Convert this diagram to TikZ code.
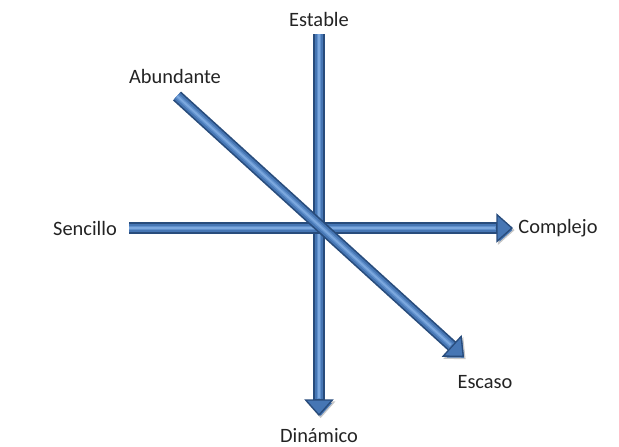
\documentclass[tikz,border=0pt]{standalone}
\usepackage{fontspec}
\setmainfont{Carlito}
\usepackage{tikz}
\usetikzlibrary{arrows.meta,positioning}

\definecolor{axisedge}{RGB}{40,76,124}
\definecolor{axisblue}{RGB}{70,118,180}
\definecolor{axismid}{RGB}{96,144,204}
\definecolor{axislight}{RGB}{124,168,222}
\definecolor{labeltext}{RGB}{35,35,35}

\tikzset{
  axislabel/.style={text=labeltext, font=\fontsize{15.3}{18}\selectfont, inner sep=1pt},
  axisarrow/.style={draw=axisedge, line width=9pt,
    -{Triangle[width=22pt, length=12.5pt, fill=axisblue, line width=1pt]},
    preaction={draw=black!22, transform canvas={shift={(1.2pt,-1.6pt)}}},
    postaction={draw=axisblue, line width=6.5pt, -, shorten >=12.5pt},
    postaction={draw=axismid, line width=3.5pt, -, shorten >=13pt},
    postaction={draw=axislight, line width=1.4pt, -, shorten >=13.5pt}},
}

\begin{document}
\begin{tikzpicture}[x=0.75pt,y=-0.75pt]
  \useasboundingbox (0,0) rectangle (619,447);

  % labels
  \node[axislabel] (estable) at (319,19) {Estable};
  \node[axislabel] (dinamico) at (319,436) {Dinámico};
  \node[axislabel] (sencillo) at (85,228) {Sencillo};
  \node[axislabel] (complejo) at (558,228) {Complejo};
  \node[axislabel] (abundante) at (175,76) {Abundante};
  \node[axislabel] (escaso) at (485,382) {Escaso};

  % arrow ends
  \coordinate (vtop) at (319,34);
  \coordinate (vbot) at (319,416);
  \coordinate (hleft) at (129,228);
  \coordinate (hright) at (513,228);
  \coordinate (dstart) at (177,96);
  \coordinate (dend) at (464,357);

  \draw[axisarrow] (vtop) -- (vbot);
  \draw[axisarrow] (hleft) -- (hright);
  \draw[axisarrow] (dstart) -- (dend);
\end{tikzpicture}
\end{document}
